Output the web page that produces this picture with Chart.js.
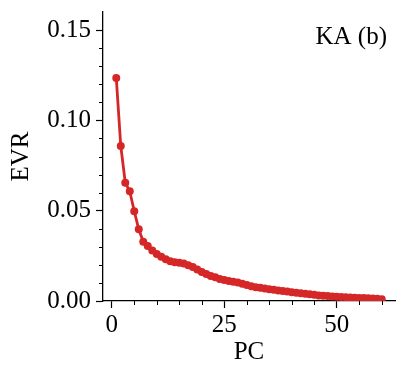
<!DOCTYPE html>
<html>
<head>
<meta charset="utf-8">
<script src="https://cdn.jsdelivr.net/npm/chart.js@4.4.1/dist/chart.umd.min.js"></script>
<style>
  html, body { margin: 0; padding: 0; background: #fff; }
  #wrap { width: 407px; height: 381px; }
</style>
</head>
<body>
<div id="wrap"><canvas id="evrChart" width="407" height="381"></canvas></div>
<script>
// principal component index
let pcs = [1, 2, 3, 4, 5, 6, 7, 8, 9, 10, 11, 12, 13, 14, 15, 16, 17, 18, 19, 20,
    21, 22, 23, 24, 25, 26, 27, 28, 29, 30, 31, 32, 33, 34, 35, 36, 37, 38, 39, 40,
    41, 42, 43, 44, 45, 46, 47, 48, 49, 50, 51, 52, 53, 54, 55, 56, 57, 58, 59, 60]

// explained variance ratio
let evr = [0.1235, 0.0858, 0.0655, 0.0607, 0.0497, 0.0397, 0.0328, 0.0305, 0.0279, 0.0260,
    0.0245, 0.0231, 0.0220, 0.0215, 0.0212, 0.0207, 0.0198, 0.0188, 0.0175, 0.0160,
    0.0150, 0.0138, 0.0131, 0.0122, 0.0116, 0.0111, 0.0106, 0.0102, 0.0095, 0.0088,
    0.0082, 0.0076, 0.0073, 0.0069, 0.0065, 0.0062, 0.0058, 0.0055, 0.0052, 0.0049,
    0.0046, 0.0043, 0.0040, 0.0037, 0.0034, 0.0031, 0.0029, 0.0027, 0.0025, 0.0024,
    0.0022, 0.0021, 0.0019, 0.0018, 0.0017, 0.0016, 0.0015, 0.0014, 0.0012, 0.0010]

let xTicks = [0, 25, 50]
let xMinorTicks = [5, 10, 15, 20, 30, 35, 40, 45, 55, 60]
let yTicks = [0.00, 0.05, 0.10, 0.15]
let yMinorTicks = [0.01, 0.02, 0.03, 0.04, 0.06, 0.07, 0.08, 0.09, 0.11, 0.12, 0.13, 0.14]

let panelLabel = "KA (b)"

let serif = "'Liberation Serif', 'DejaVu Serif', serif"
let red = "#d62728"
let fontSize = 25

// minor ticks + panel label
const extrasPlugin = {
    id: "extras",
    afterDraw(chart) {
        let ctx = chart.ctx
        let xs = chart.scales.x
        let ys = chart.scales.y
        let area = chart.chartArea
        ctx.save()
        ctx.strokeStyle = "#000"
        ctx.lineWidth = 1
        ctx.beginPath()
        for (let i = 0; i < xMinorTicks.length; i++) {
            let px = Math.round(xs.getPixelForValue(xMinorTicks[i])) + 0.5
            ctx.moveTo(px, area.bottom)
            ctx.lineTo(px, area.bottom + 4)
        }
        for (let j = 0; j < yMinorTicks.length; j++) {
            let py = Math.round(ys.getPixelForValue(yMinorTicks[j])) + 0.5
            ctx.moveTo(area.left, py)
            ctx.lineTo(area.left - 4, py)
        }
        ctx.stroke()

        ctx.fillStyle = "#000"
        ctx.font = fontSize + "px " + serif
        ctx.textAlign = "right"
        ctx.textBaseline = "alphabetic"
        ctx.fillText(panelLabel, area.right - 8, 44)
        ctx.restore()
    }
}

// drop the label overflow padding so the plot box sits where it should
function noPad(scale) {
    scale.paddingTop = 0
    scale.paddingBottom = 0
    scale.paddingLeft = 0
    scale.paddingRight = 0
}

let ctx = document.getElementById("evrChart").getContext("2d")
let evrChart = new Chart(ctx, {
    type: "line",
    data: {
        datasets: [{
            data: pcs.map((p, i) => ({ x: p, y: evr[i] })),
            borderColor: red,
            backgroundColor: red,
            borderWidth: 2.8,
            pointRadius: 4,
            pointBorderWidth: 0,
            pointBackgroundColor: red,
            tension: 0,
            fill: false
        }]
    },
    options: {
        responsive: false,
        animation: false,
        devicePixelRatio: 1,
        layout: { padding: { top: 12, right: 12, left: 0, bottom: 0 } },
        plugins: {
            legend: { display: false },
            tooltip: { enabled: false }
        },
        scales: {
            x: {
                type: "linear",
                min: -1.95,
                max: 62.95,
                afterBuildTicks: (scale) => { scale.ticks = xTicks.map(v => ({ value: v })) },
                afterFit: (scale) => { scale.height = 80; noPad(scale) },
                grid: { drawOnChartArea: false, drawTicks: true, tickLength: 7, tickColor: "#000", tickWidth: 1.2 },
                border: { display: true, color: "#000", width: 1.3 },
                ticks: {
                    color: "#000",
                    font: { family: serif, size: fontSize },
                    padding: 2,
                    maxRotation: 0,
                    callback: (v) => String(v)
                },
                title: {
                    display: true,
                    text: "PC",
                    color: "#000",
                    font: { family: serif, size: fontSize },
                    padding: { top: 0, bottom: 14 }
                }
            },
            y: {
                type: "linear",
                min: 0,
                max: 0.16,
                afterBuildTicks: (scale) => { scale.ticks = yTicks.map(v => ({ value: v })) },
                afterFit: (scale) => { scale.width = 103; noPad(scale) },
                grid: { drawOnChartArea: false, drawTicks: true, tickLength: 7, tickColor: "#000", tickWidth: 1.2 },
                border: { display: true, color: "#000", width: 1.3 },
                ticks: {
                    color: "#000",
                    font: { family: serif, size: fontSize },
                    padding: 5,
                    callback: (v) => v.toFixed(2)
                },
                title: {
                    display: true,
                    text: "EVR",
                    color: "#000",
                    font: { family: serif, size: fontSize },
                    padding: { top: 6, bottom: 0 }
                }
            }
        }
    },
    plugins: [extrasPlugin]
})
</script>
</body>
</html>
